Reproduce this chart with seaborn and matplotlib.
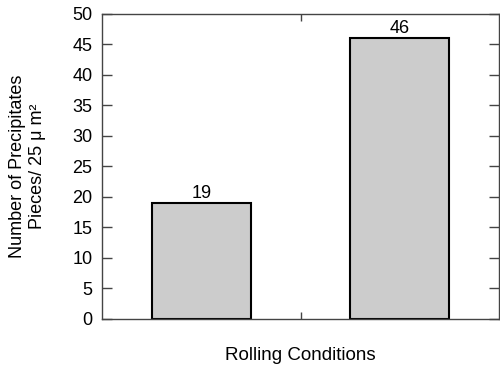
import matplotlib
matplotlib.use("Agg")
import matplotlib.pyplot as plt
import seaborn as sns
import pandas as pd

# Precipitate counts for the two rolling conditions
conditions = ["Condition 1", "Condition 2"]
counts = [19, 46]
y_ticks = [0, 5, 10, 15, 20, 25, 30, 35, 40, 45, 50]

sns.set_style("white")
plt.rcParams["font.family"] = ["Liberation Sans", "DejaVu Sans"]
plt.rcParams["text.color"] = "black"
plt.rcParams["axes.labelcolor"] = "black"
plt.rcParams["ytick.labelcolor"] = "black"

df = pd.DataFrame({"condition": conditions, "count": counts})

fig = plt.figure(figsize=(5.0, 3.67), dpi=100)
ax = fig.add_axes([0.204, 0.131, 0.794, 0.831])

sns.barplot(data=df, x="condition", y="count", color="#cccccc",
            edgecolor="black", linewidth=1.5, width=0.5, saturation=1,
            ax=ax)

for patch, v in zip(ax.patches, counts):
    ax.text(patch.get_x() + patch.get_width() / 2, patch.get_height() + 0.2,
            f"{v:d}", ha="center", va="bottom", fontsize=13, color="black")

ax.set_xlim(-0.5, 1.5)
ax.set_ylim(0, 50)
ax.set_yticks(y_ticks)
ax.set_xticks([0.5])
ax.set_xticklabels([])

ax.tick_params(axis="y", direction="in", length=7, width=1, color="#444444",
               labelsize=13, labelcolor="black", right=True, left=True,
               labelright=False, pad=7)
ax.tick_params(axis="x", direction="in", length=5, width=1, color="#444444",
               top=True, bottom=True)

for s in ax.spines.values():
    s.set_visible(True)
    s.set_color("#444444")
    s.set_linewidth(1.0)

ax.set_xlabel("Rolling Conditions", fontsize=13.5, labelpad=17, color="black")
ax.set_ylabel("Number of Precipitates\nPieces/ 25 \u03bc m\u00b2", fontsize=13,
              labelpad=19, color="black")

fig.savefig("out.png", dpi=100)
